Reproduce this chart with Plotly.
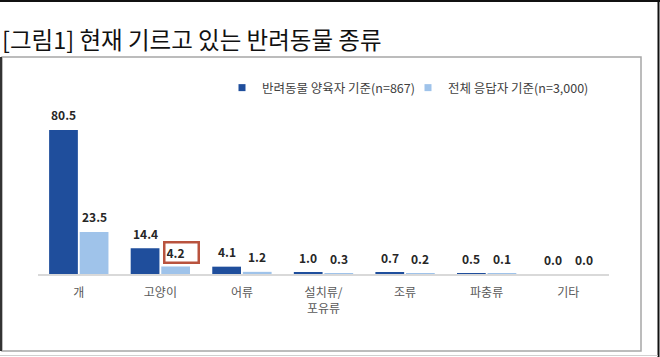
import plotly.graph_objects as go

categories = ["개", "고양이", "어류", "설치류/<br>포유류", "조류", "파충류", "기타"]
owners = [80.5, 14.4, 4.1, 1.0, 0.7, 0.5, 0.0]
everyone = [23.5, 4.2, 1.2, 0.3, 0.2, 0.1, 0.0]
series_names = ["반려동물 양육자 기준(n=867)", "전체 응답자 기준(n=3,000)"]
title_text = "[그림1] 현재 기르고 있는 반려동물 종류"
highlight_index = 1  # 고양이, 전체 응답자 기준

W, H = 660, 357
L, R, T, B = 38, 51, 113, 83
PW, PH = W - L - R, H - T - B

def xp(px):
    return (px - L) / PW

def yp(py):
    return (H - B - py) / PH

FONT = "Noto Sans CJK KR, Malgun Gothic, sans-serif"
DARK = "#1f4e9c"
LIGHT = "#9fc3ea"

fig = go.Figure()
fig.add_trace(go.Bar(x=categories, y=owners, name=series_names[0], showlegend=False,
                     marker=dict(color=DARK, line=dict(width=0))))
fig.add_trace(go.Bar(x=categories, y=everyone, name=series_names[1], showlegend=False,
                     marker=dict(color=LIGHT, line=dict(width=0))))
# legend keys (small squares as in the reference)
for name, col in zip(series_names, (DARK, LIGHT)):
    fig.add_trace(go.Scatter(x=[None], y=[None], mode="markers", name=name,
                             marker=dict(symbol="square", size=7, color=col)))

cat_w = PW / len(categories)
off = cat_w * (1 - 0.25) / 4

annotations = []
for i, c in enumerate(categories):
    for vals, sgn, idx in ((owners, -1, 0), (everyone, 1, 1)):
        v = vals[i]
        if idx == 1 and i == highlight_index:
            annotations.append(dict(
                x=c, y=v, xref="x", yref="y", text=f"{v:.1f}",
                showarrow=False, xshift=sgn * off + 5.5, yshift=13.5,
                yanchor="middle", xanchor="center",
                width=30, height=16, align="left", borderpad=1,
                bordercolor="#b9533e", borderwidth=2.5,
                font=dict(family=FONT, size=12, color="#262626", weight="bold")))
        else:
            annotations.append(dict(
                x=c, y=v, xref="x", yref="y", text=f"{v:.1f}",
                showarrow=False, xshift=sgn * off, yshift=15,
                yanchor="middle", xanchor="center",
                font=dict(family=FONT, size=12, color="#262626", weight="bold")))

annotations.append(dict(
    x=xp(0), y=yp(39), xref="paper", yref="paper", text=title_text,
    showarrow=False, xanchor="left", yanchor="middle",
    font=dict(family=FONT, size=23.5, color="#111111")))

shapes = [
    dict(type="rect", xref="paper", yref="paper",
         x0=xp(2), x1=xp(641), y0=yp(351), y1=yp(57),
         line=dict(color="#a6a6a6", width=1.5), fillcolor="rgba(0,0,0,0)", layer="below"),
    dict(type="line", xref="paper", yref="paper", x0=xp(0), x1=xp(660), y0=yp(1), y1=yp(1),
         line=dict(color="#111111", width=2)),
    dict(type="line", xref="paper", yref="paper", x0=xp(658.5), x1=xp(658.5), y0=yp(0), y1=yp(357),
         line=dict(color="#111111", width=2)),
    dict(type="line", xref="paper", yref="paper", x0=xp(1), x1=xp(1), y0=yp(57), y1=yp(351),
         line=dict(color="#333333", width=2)),
    dict(type="line", xref="paper", yref="paper", x0=xp(0), x1=xp(658), y0=yp(355.5), y1=yp(355.5),
         line=dict(color="#d0d0d0", width=1)),
]

fig.update_layout(
    width=W, height=H,
    margin=dict(l=L, r=R, t=T, b=B, pad=0),
    paper_bgcolor="white", plot_bgcolor="white",
    barmode="group", bargap=0.25, bargroupgap=0.06,
    showlegend=True,
    legend=dict(orientation="h", x=xp(222), y=yp(88), xanchor="left", yanchor="middle",
                font=dict(family=FONT, size=12.5, color="#404040"),
                itemwidth=30, tracegroupgap=0, bgcolor="rgba(0,0,0,0)",
                entrywidthmode="pixels", entrywidth=141),
    xaxis=dict(showgrid=False, showline=True, linecolor="#d9d9d9", linewidth=1.5,
               ticks="", ticklabelstandoff=7,
               tickfont=dict(family=FONT, size=12, color="#595959"),
               fixedrange=True),
    yaxis=dict(range=[0, 90], visible=False, showgrid=False, zeroline=False, fixedrange=True),
    annotations=annotations,
    shapes=shapes,
)

fig.write_html("out.html")
